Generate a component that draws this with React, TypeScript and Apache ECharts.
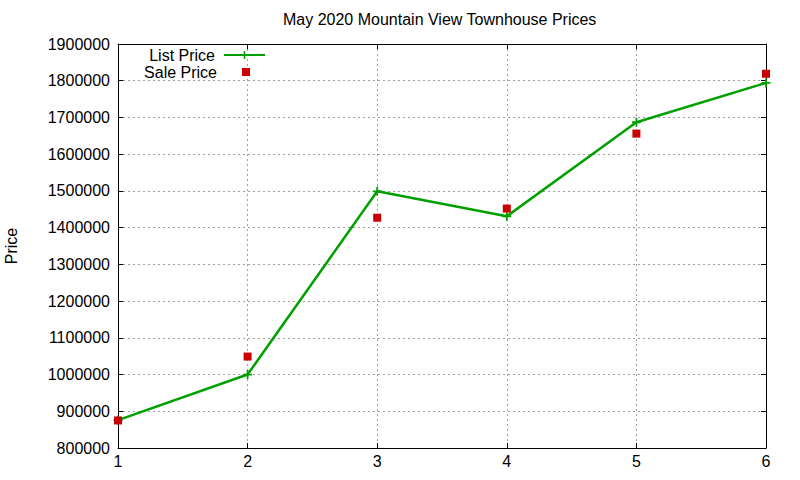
import React, { useEffect, useRef } from "react";
import * as echarts from "echarts";

const title = "May 2020 Mountain View Townhouse Prices";
const xValues = [1, 2, 3, 4, 5, 6];
const listPrice = [876000, 1000000, 1499000, 1431000, 1687000, 1794000];
const salePrice = [875000, 1049000, 1427000, 1452000, 1656000, 1819000];
const seriesNames = ["List Price", "Sale Price"];
const yAxisName = "Price";

const GREEN = "#00a000";
const RED = "#cc0000";
const FONT = "Liberation Sans, Arial, sans-serif";
const PLUS = "path://M4,0H6V10H4Z M0,4H10V6H0Z";

export default function App() {
  const ref = useRef<HTMLDivElement>(null);
  useEffect(() => {
    if (!ref.current) return;
    const chart = echarts.init(ref.current, undefined, { renderer: "svg" });
    const gridLine = { show: true, lineStyle: { color: "#a0a0a0", width: 1, type: [2, 3] as any } };
    const axisLine = { show: true, onZero: false, lineStyle: { color: "#000", width: 1 } };
    const tick = { show: true, inside: true, length: 5, lineStyle: { color: "#000" } };
    chart.setOption({
      animation: false,
      backgroundColor: "#fff",
      textStyle: { fontFamily: FONT },
      title: {
        text: title,
        left: 283,
        top: 11,
        padding: 0,
        textStyle: { fontSize: 16, fontWeight: "normal", color: "#000", fontFamily: FONT },
      },
      legend: [
        {
          data: [seriesNames[0]],
          align: "right",
          right: 534,
          top: 47,
          padding: 0,
          itemWidth: 41,
          itemHeight: 10,
          textStyle: { fontSize: 16, lineHeight: 16, color: "#000", fontFamily: FONT, padding: [0, 4, 0, 0] },
        },
        {
          data: [seriesNames[1]],
          align: "right",
          right: 550,
          top: 64,
          padding: 0,
          itemWidth: 8,
          itemHeight: 8,
          icon: "rect",
          textStyle: { fontSize: 16, lineHeight: 16, color: "#000", fontFamily: FONT, padding: [0, 20, 0, 0] },
        },
      ],
      grid: { left: 118, right: 34, top: 44, bottom: 32, containLabel: false, outerBoundsMode: "none" },
      xAxis: [
        {
          type: "value",
          min: 1,
          max: 6,
          interval: 1,
          position: "bottom",
          axisLine,
          axisTick: tick,
          splitLine: gridLine,
          axisLabel: { fontSize: 16, color: "#000", margin: 5, fontFamily: FONT },
        },
        {
          type: "value",
          min: 1,
          max: 6,
          interval: 1,
          position: "top",
          axisLine,
          axisTick: tick,
          splitLine: { show: false },
          axisLabel: { show: false },
        },
      ],
      yAxis: [
        {
          type: "value",
          min: 800000,
          max: 1900000,
          interval: 100000,
          position: "left",
          name: yAxisName,
          nameLocation: "middle",
          nameGap: 99,
          nameTextStyle: { fontSize: 16, color: "#000", fontFamily: FONT },
          axisLine,
          axisTick: tick,
          splitLine: gridLine,
          axisLabel: {
            fontSize: 16,
            color: "#000",
            margin: 8,
            fontFamily: FONT,
            formatter: (v: number) => String(v),
          },
        },
        {
          type: "value",
          min: 800000,
          max: 1900000,
          interval: 100000,
          position: "right",
          axisLine,
          axisTick: tick,
          splitLine: { show: false },
          axisLabel: { show: false },
        },
      ],
      series: [
        {
          name: seriesNames[0],
          type: "line",
          data: xValues.map((x, i) => [x, listPrice[i]]),
          symbol: PLUS,
          symbolSize: 9,
          showAllSymbol: true,
          itemStyle: { color: GREEN },
          lineStyle: { color: GREEN, width: 2.5 },
          z: 3,
        },
        {
          name: seriesNames[1],
          type: "scatter",
          data: xValues.map((x, i) => [x, salePrice[i]]),
          symbol: "rect",
          symbolSize: 8,
          itemStyle: { color: RED, opacity: 1 },
          z: 4,
        },
      ],
    });
    return () => chart.dispose();
  }, []);
  return <div ref={ref} style={{ width: 800, height: 480, position: "absolute", left: 0, top: 0 }} />;
}
